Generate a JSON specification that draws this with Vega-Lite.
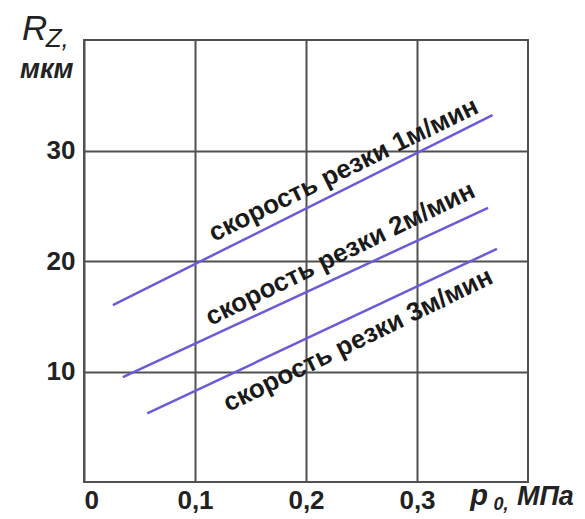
{
  "$schema": "https://vega.github.io/schema/vega-lite/v6.json",
  "width": 444,
  "height": 442,
  "autosize": "none",
  "padding": {"left": 84, "top": 40, "right": 57, "bottom": 37},
  "background": "white",
  "config": {
    "view": {"stroke": "#505050", "strokeWidth": 2},
    "axis": {
      "grid": true,
      "gridColor": "#505050",
      "gridWidth": 2,
      "gridOpacity": 1,
      "domain": false,
      "ticks": false,
      "title": null,
      "labelFont": "Liberation Sans",
      "labelFontWeight": "bold",
      "labelFontSize": 26,
      "labelColor": "#222222"
    }
  },
  "datasets": {
    "lines": [
      {"series": "1 м/мин", "p": 0.026, "rz": 16.0},
      {"series": "1 м/мин", "p": 0.368, "rz": 33.2},
      {"series": "2 м/мин", "p": 0.035, "rz": 9.5},
      {"series": "2 м/мин", "p": 0.364, "rz": 24.8},
      {"series": "3 м/мин", "p": 0.057, "rz": 6.2},
      {"series": "3 м/мин", "p": 0.372, "rz": 21.1}
    ],
    "labels": [
      {"label": "скорость резки 1м/мин", "p": 0.237, "rz": 27.6},
      {"label": "скорость резки 2м/мин", "p": 0.234, "rz": 20.0},
      {"label": "скорость резки 3м/мин", "p": 0.25, "rz": 12.2}
    ],
    "titles": [
      {"part": "R", "text": "R", "p": -0.0559, "rz": 40.0},
      {"part": "Z", "text": "Z,", "p": -0.0345, "rz": 39.37},
      {"part": "unitY", "text": "мкм", "p": -0.0577, "rz": 36.56},
      {"part": "p", "text": "p", "p": 0.3480, "rz": -2.08},
      {"part": "sub0", "text": "0,", "p": 0.369, "rz": -2.53},
      {"part": "unitX", "text": "МПа", "p": 0.390, "rz": -2.08}
    ]
  },
  "encoding": {
    "x": {
      "field": "p",
      "type": "quantitative",
      "scale": {"domain": [0, 0.4], "nice": false, "zero": false},
      "axis": {
        "values": [0, 0.1, 0.2, 0.3],
        "labelExpr": "datum.value == 0 ? '0' : replace(format(datum.value, '.1f'), '.', ',')",
        "labelPadding": 5
      }
    },
    "y": {
      "field": "rz",
      "type": "quantitative",
      "scale": {"domain": [0, 40], "nice": false, "zero": false},
      "axis": {"values": [10, 20, 30], "labelPadding": 9}
    }
  },
  "layer": [
    {
      "data": {"name": "lines"},
      "mark": {"type": "line", "color": "#6a5cd6", "strokeWidth": 2.5, "clip": false},
      "encoding": {"detail": {"field": "series"}}
    },
    {
      "data": {"name": "labels"},
      "mark": {"type": "text", "angle": -26, "align": "center", "baseline": "alphabetic", "font": "Liberation Sans", "fontSize": 26, "fontWeight": "bold", "color": "#1a1a1a"},
      "encoding": {"text": {"field": "label"}}
    },
    {
      "data": {"name": "titles"},
      "transform": [{"filter": "datum.part == 'R'"}],
      "mark": {"type": "text", "align": "left", "baseline": "alphabetic", "font": "Liberation Sans", "fontSize": 35, "fontStyle": "italic", "color": "#222222"},
      "encoding": {"text": {"field": "text"}}
    },
    {
      "data": {"name": "titles"},
      "transform": [{"filter": "datum.part == 'Z'"}],
      "mark": {"type": "text", "align": "left", "baseline": "alphabetic", "font": "Liberation Sans", "fontSize": 26, "fontStyle": "italic", "color": "#222222"},
      "encoding": {"text": {"field": "text"}}
    },
    {
      "data": {"name": "titles"},
      "transform": [{"filter": "datum.part == 'unitY'"}],
      "mark": {"type": "text", "align": "left", "baseline": "alphabetic", "font": "Liberation Sans", "fontSize": 27, "fontStyle": "italic", "fontWeight": "bold", "color": "#222222"},
      "encoding": {"text": {"field": "text"}}
    },
    {
      "data": {"name": "titles"},
      "transform": [{"filter": "datum.part == 'p'"}],
      "mark": {"type": "text", "align": "left", "baseline": "alphabetic", "font": "Liberation Sans", "fontSize": 29, "fontStyle": "italic", "fontWeight": "bold", "color": "#222222"},
      "encoding": {"text": {"field": "text"}}
    },
    {
      "data": {"name": "titles"},
      "transform": [{"filter": "datum.part == 'sub0'"}],
      "mark": {"type": "text", "align": "left", "baseline": "alphabetic", "font": "Liberation Sans", "fontSize": 18, "fontStyle": "italic", "fontWeight": "bold", "color": "#222222"},
      "encoding": {"text": {"field": "text"}}
    },
    {
      "data": {"name": "titles"},
      "transform": [{"filter": "datum.part == 'unitX'"}],
      "mark": {"type": "text", "align": "left", "baseline": "alphabetic", "font": "Liberation Sans", "fontSize": 27, "fontStyle": "italic", "fontWeight": "bold", "color": "#222222"},
      "encoding": {"text": {"field": "text"}}
    }
  ]
}
